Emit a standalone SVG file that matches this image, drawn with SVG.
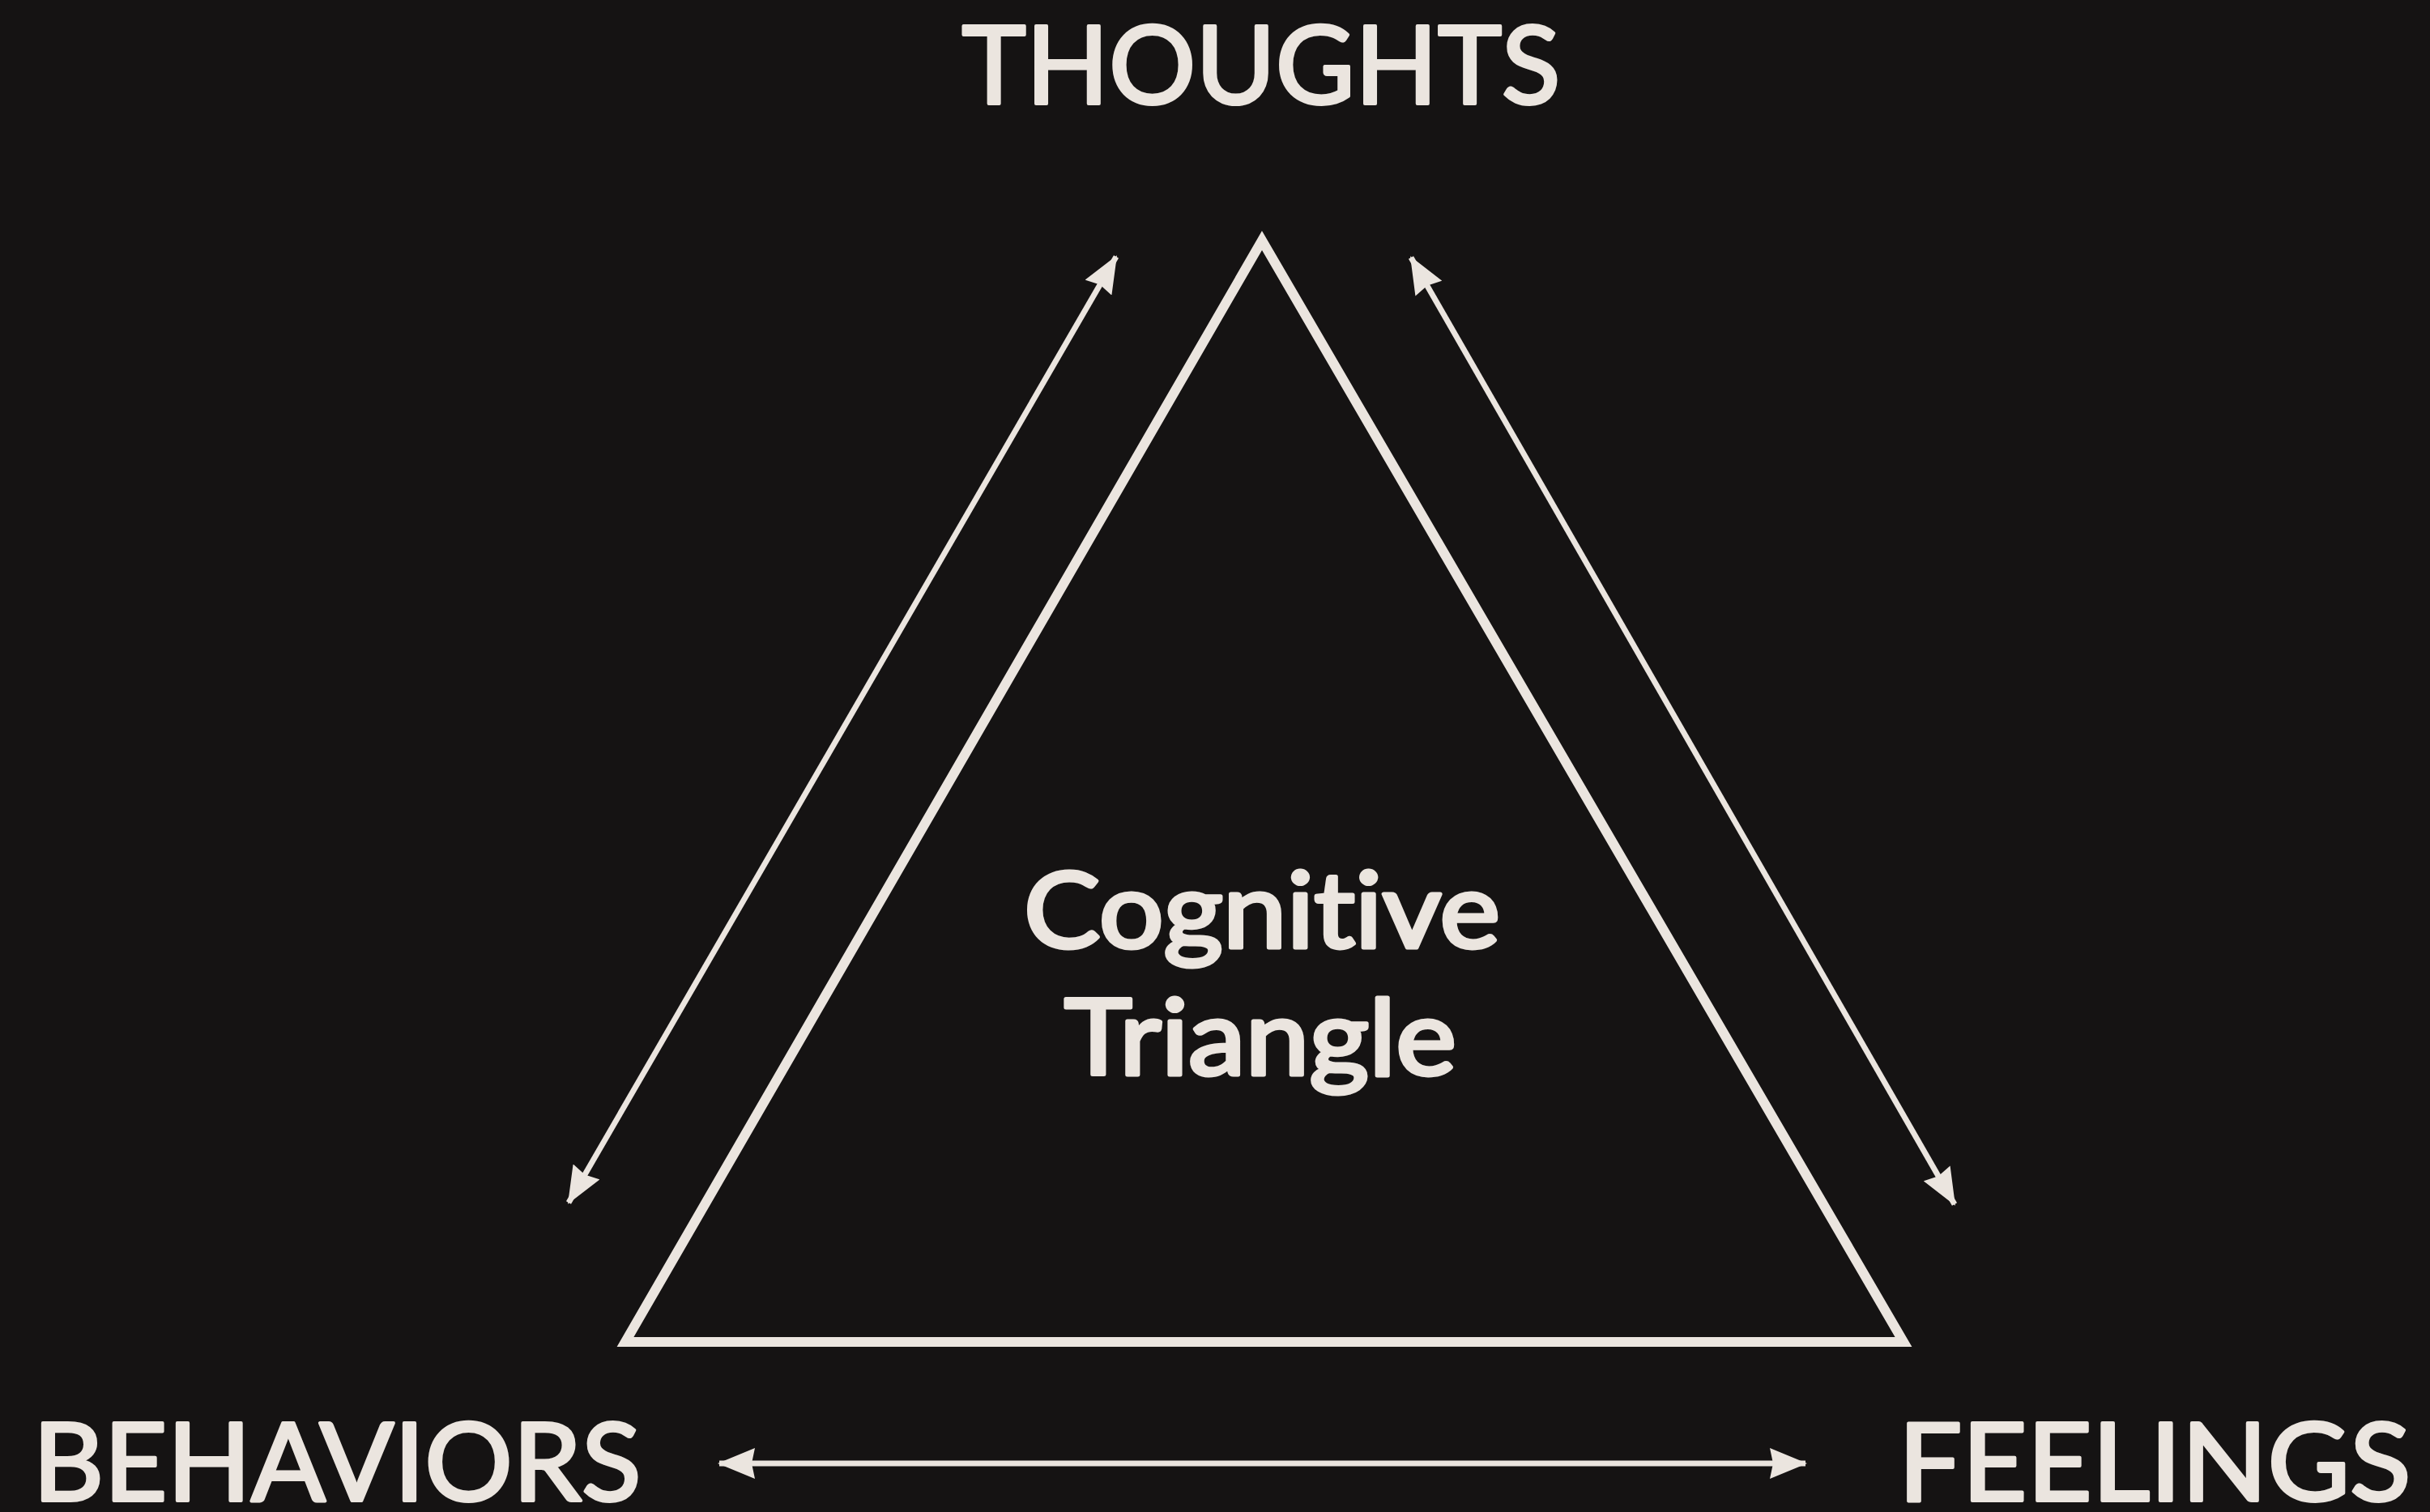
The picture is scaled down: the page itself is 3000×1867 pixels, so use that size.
<svg xmlns="http://www.w3.org/2000/svg" width="3000" height="1867" viewBox="0 0 3000 1867">
<style>
.lbl{font-family:Lato,"Open Sans","Liberation Sans",sans-serif;font-size:134px;fill:#ebe5df;stroke:#ebe5df;stroke-width:4;stroke-linejoin:round;text-anchor:middle;font-variant-ligatures:none}
.ctr{font-family:Lato,"Open Sans","Liberation Sans",sans-serif;font-size:130px;fill:#ebe5df;stroke:#ebe5df;stroke-width:5;stroke-linejoin:round;text-anchor:middle;font-variant-ligatures:none}
.tri{fill:none;stroke:#ebe5df;stroke-width:12;stroke-linejoin:miter}
.arr{stroke:#ebe5df;stroke-width:7;fill:none;marker-start:url(#head);marker-end:url(#head)}
</style>
<defs>
<marker id="head" viewBox="0 0 46 38" refX="44" refY="19" markerWidth="46" markerHeight="38" markerUnits="userSpaceOnUse" orient="auto-start-reverse">
<path d="M0,0 L46,19 L0,38 L4,19 Z" fill="#ebe5df"/>
</marker>
</defs>
<rect width="3000" height="1867" fill="#151313"/>
<g id="triangle">
<polygon class="tri" points="1558,297 772,1657 2350,1657"/>
<text class="ctr" x="1558" y="1170" textLength="588" lengthAdjust="spacingAndGlyphs">Cognitive</text>
<text class="ctr" x="1556" y="1327" textLength="484" lengthAdjust="spacingAndGlyphs">Triangle</text>
</g>
<g id="thoughts"><text class="lbl" x="1557" y="128" textLength="739" lengthAdjust="spacingAndGlyphs">THOUGHTS</text></g>
<g id="behaviors"><text class="lbl" x="416" y="1853" textLength="751" lengthAdjust="spacingAndGlyphs">BEHAVIORS</text></g>
<g id="feelings"><text class="lbl" x="2660" y="1853" textLength="633" lengthAdjust="spacingAndGlyphs">FEELINGS</text></g>
<g id="connectors">
<line class="arr" x1="1378" y1="317" x2="702" y2="1485"/>
<line class="arr" x1="1742" y1="318" x2="2413" y2="1487"/>
<line class="arr" x1="888" y1="1807" x2="2229" y2="1807"/>
</g>
</svg>
